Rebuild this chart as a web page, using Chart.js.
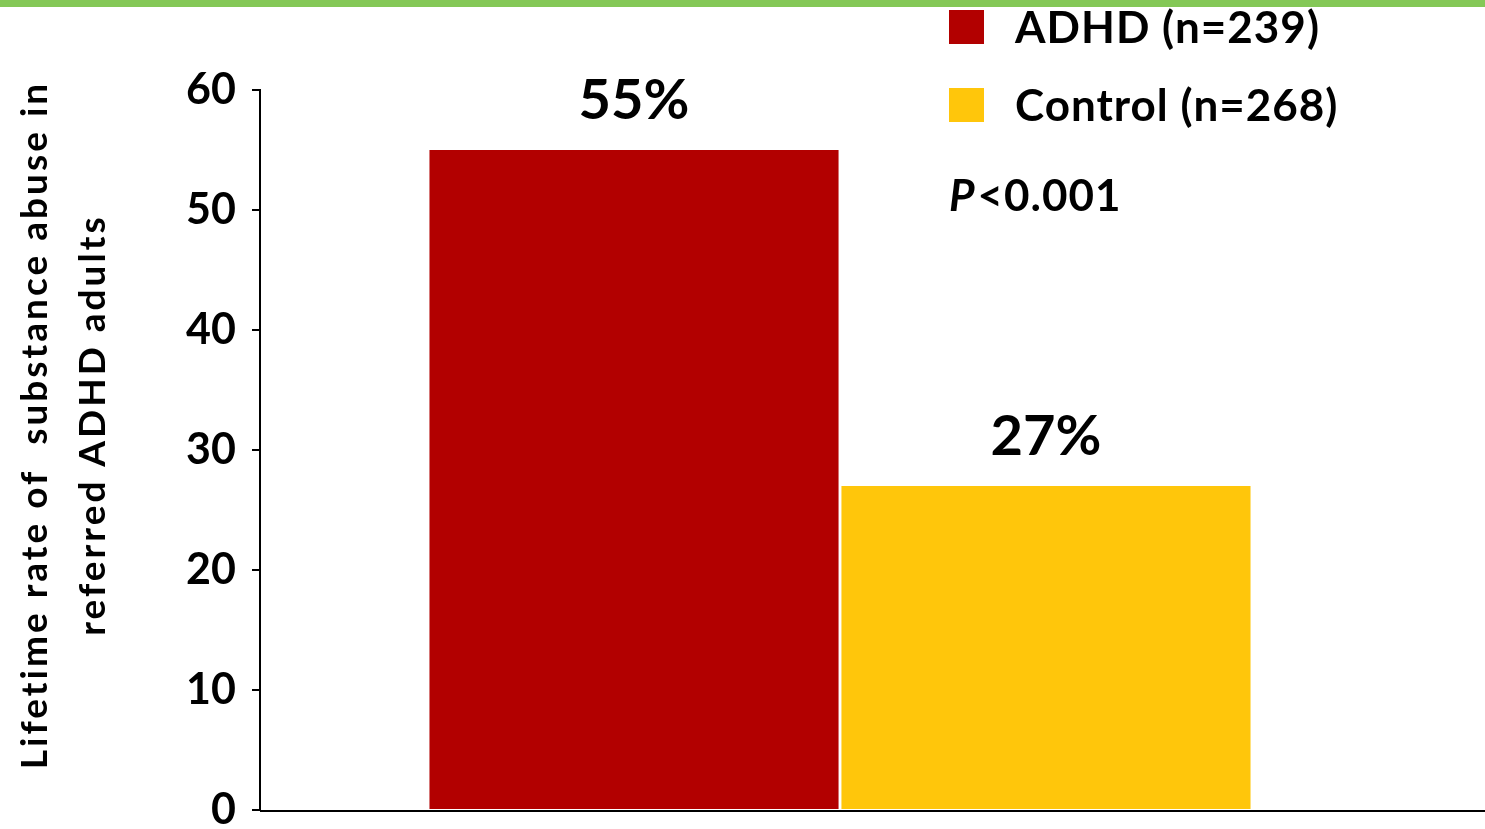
<!DOCTYPE html>
<html>
<head>
<meta charset="utf-8">
<script src="https://cdn.jsdelivr.net/npm/chart.js@4.4.1/dist/chart.umd.min.js"></script>
<style>
  html, body { margin: 0; padding: 0; background: #fff; }
  #wrap { position: relative; width: 1485px; height: 829px; }
  #topbar { position: absolute; left: 0; top: 0; width: 1485px; height: 7px; background: #84c857; }
</style>
</head>
<body>
<div id="wrap">
  <canvas id="chart" width="1485" height="829"></canvas>
  <div id="topbar"></div>
</div>
<script>
// data
const groups = ["ADHD (n=239)", "Control (n=268)"];
const rates = [55, 27];
const barColors = ["#b20000", "#ffc60b"];
const yTicks = [0, 10, 20, 30, 40, 50, 60];
const yTitle = ["Lifetime rate of  substance abuse in", "referred ADHD adults"];
const pText = "<0.001";

const FONT = "Lato, 'Open Sans', sans-serif";

// labels, legend, axis title, x axis line
const extras = {
  id: "extras",
  afterDatasetsDraw(chart) {
    const { ctx, chartArea } = chart;
    const y = chart.scales.y;
    ctx.save();
    // x axis line goes to the right edge
    ctx.strokeStyle = "#000";
    ctx.lineWidth = 2;
    ctx.beginPath();
    ctx.moveTo(chartArea.left, y.getPixelForValue(0) + 1);
    ctx.lineTo(chart.width, y.getPixelForValue(0) + 1);
    ctx.stroke();

    // value labels
    ctx.fillStyle = "#000";
    ctx.font = "bold 56px " + FONT;
    ctx.textAlign = "center";
    ctx.textBaseline = "alphabetic";
    chart.data.datasets.forEach((ds, i) => {
      const bar = chart.getDatasetMeta(i).data[0];
      ctx.fillText(ds.data[0] + "%", bar.x, bar.y - 31);
    });

    // legend
    ctx.textAlign = "left";
    ctx.textBaseline = "middle";
    ctx.letterSpacing = "1px";
    ctx.font = "bold 44px " + FONT;
    chart.data.datasets.forEach((ds, i) => {
      const top = 10 + i * 78;
      ctx.fillStyle = ds.backgroundColor;
      ctx.fillRect(949, top, 35, 34);
      ctx.fillStyle = "#000";
      ctx.fillText(ds.label, 1015, top + 19);
    });
    ctx.font = "italic bold 44px " + FONT;
    ctx.fillText("P", 949, 197);
    const pw = ctx.measureText("P").width;
    ctx.font = "bold 44px " + FONT;
    ctx.fillText(pText, 949 + pw + 2, 197);

    // y axis title
    ctx.translate(0, 425);
    ctx.rotate(-Math.PI / 2);
    ctx.textAlign = "center";
    ctx.letterSpacing = "3px";
    ctx.font = "bold 37px " + FONT;
    ctx.fillText(yTitle[0], 0, 35);
    ctx.fillText(yTitle[1], 0, 93);
    ctx.restore();
  }
};

new Chart(document.getElementById("chart"), {
  type: "bar",
  data: {
    labels: ["Group"],
    datasets: groups.map((g, i) => ({
      label: g,
      data: [rates[i]],
      backgroundColor: barColors[i],
      categoryPercentage: 0.7103,
      barPercentage: 0.993
    }))
  },
  options: {
    responsive: false,
    animation: false,
    layout: { padding: { top: 90, right: 65, bottom: 19, left: 0 } },
    plugins: { legend: { display: false }, tooltip: { enabled: false } },
    scales: {
      x: { display: false },
      y: {
        min: 0,
        max: 60,
        afterFit(s) { s.width = 260; s.paddingTop = 0; s.paddingBottom = 0; },
        afterBuildTicks(s) { s.ticks = yTicks.map(v => ({ value: v })); },
        border: { color: "#000", width: 2 },
        grid: { drawOnChartArea: false, drawTicks: true, tickLength: 8, color: "#000", lineWidth: 2 },
        ticks: { color: "#000", padding: 16, font: { family: FONT, size: 43, weight: "bold" } }
      }
    }
  },
  plugins: [extras]
});
</script>
</body>
</html>
